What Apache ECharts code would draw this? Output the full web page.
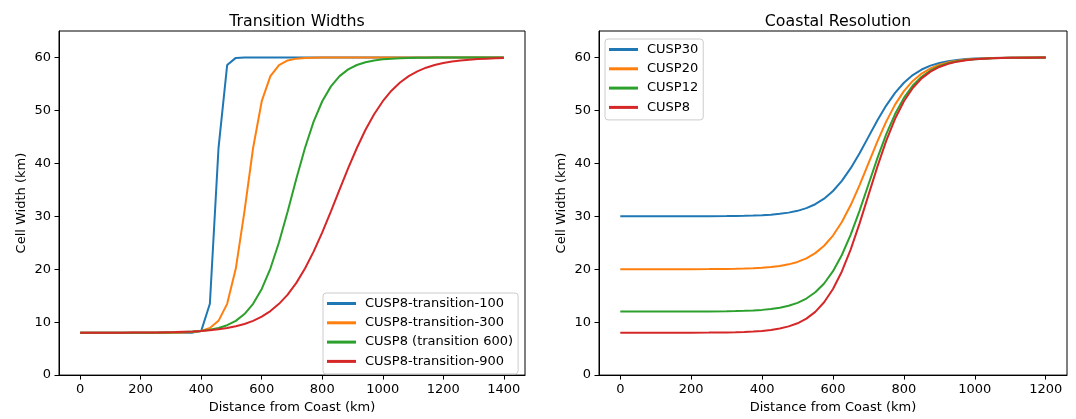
<!DOCTYPE html>
<html>
<head>
<meta charset="utf-8">
<script src="https://cdn.jsdelivr.net/npm/echarts@6/dist/echarts.min.js"></script>
<style>
html,body{margin:0;padding:0;background:#fff;}
#chart{width:1076px;height:419px;}
</style>
</head>
<body>
<div id="chart"></div>
<script>
// ---- Left panel: Transition Widths ----
const leftX = [0, 28.6, 57.1, 85.7, 114.3, 142.9, 171.4, 200, 228.6, 257.1, 285.7, 314.3, 342.9, 371.4, 400, 428.6, 457.1, 485.7, 514.3, 542.9, 571.4, 600, 628.6, 657.1, 685.7, 714.3, 742.9, 771.4, 800, 828.6, 857.1, 885.7, 914.3, 942.9, 971.4, 1000, 1028.6, 1057.1, 1085.7, 1114.3, 1142.9, 1171.4, 1200, 1228.6, 1257.1, 1285.7, 1314.3, 1342.9, 1371.4, 1400];
const trans100 = [8, 8, 8, 8, 8, 8, 8, 8, 8, 8, 8, 8, 8, 8.02, 8.35, 13.47, 42.86, 58.57, 59.92, 60, 60, 60, 60, 60, 60, 60, 60, 60, 60, 60, 60, 60, 60, 60, 60, 60, 60, 60, 60, 60, 60, 60, 60, 60, 60, 60, 60, 60, 60, 60];
const trans300 = [8, 8, 8, 8, 8, 8, 8, 8, 8, 8, 8.01, 8.02, 8.05, 8.13, 8.35, 8.89, 10.25, 13.46, 20.13, 30.94, 42.9, 51.74, 56.47, 58.57, 59.44, 59.78, 59.92, 59.97, 59.99, 60, 60, 60, 60, 60, 60, 60, 60, 60, 60, 60, 60, 60, 60, 60, 60, 60, 60, 60, 60, 60];
const trans600 = [8, 8, 8, 8, 8, 8.01, 8.01, 8.01, 8.02, 8.03, 8.05, 8.08, 8.14, 8.22, 8.35, 8.56, 8.9, 9.42, 10.25, 11.53, 13.46, 16.27, 20.13, 25.1, 30.92, 37.08, 42.9, 47.87, 51.73, 54.54, 56.47, 57.75, 58.58, 59.1, 59.44, 59.65, 59.78, 59.86, 59.92, 59.95, 59.97, 59.98, 59.99, 60, 60, 60, 60, 60, 60, 60];
const trans900 = [8, 8, 8.01, 8.01, 8.01, 8.02, 8.03, 8.04, 8.05, 8.07, 8.1, 8.13, 8.19, 8.25, 8.35, 8.48, 8.65, 8.89, 9.22, 9.66, 10.25, 11.04, 12.09, 13.46, 15.21, 17.42, 20.13, 23.32, 26.96, 30.92, 35.03, 39.1, 42.9, 46.34, 49.28, 51.74, 53.72, 55.27, 56.47, 57.38, 58.07, 58.58, 58.96, 59.24, 59.44, 59.59, 59.7, 59.78, 59.84, 59.88];
const leftNames = ['CUSP8-transition-100', 'CUSP8-transition-300', 'CUSP8 (transition 600)', 'CUSP8-transition-900'];
const leftXTicks = [0, 200, 400, 600, 800, 1000, 1200, 1400];

// ---- Right panel: Coastal Resolution ----
const rightX = [0, 100, 200, 250, 300, 325, 350, 375, 400, 425, 450, 475, 500, 525, 550, 575, 600, 625, 650, 675, 700, 725, 750, 775, 800, 825, 850, 875, 900, 925, 950, 975, 1000, 1050, 1100, 1150, 1200];
const cusp30 = [30, 30, 30.01, 30.02, 30.04, 30.06, 30.09, 30.13, 30.2, 30.3, 30.46, 30.69, 31.03, 31.54, 32.28, 33.32, 34.77, 36.68, 39.09, 41.92, 45, 48.08, 50.91, 53.32, 55.23, 56.68, 57.72, 58.46, 58.97, 59.31, 59.54, 59.7, 59.8, 59.91, 59.96, 59.98, 59.99];
const cusp20 = [20, 20, 20.01, 20.02, 20.05, 20.08, 20.12, 20.18, 20.27, 20.4, 20.61, 20.92, 21.38, 22.05, 23.04, 24.43, 26.36, 28.91, 32.12, 35.89, 40, 44.11, 47.88, 51.09, 53.64, 55.57, 56.96, 57.95, 58.62, 59.08, 59.39, 59.6, 59.73, 59.88, 59.95, 59.98, 59.99];
const cusp12 = [12, 12, 12.01, 12.03, 12.06, 12.09, 12.14, 12.22, 12.32, 12.49, 12.73, 13.1, 13.65, 14.46, 15.64, 17.31, 19.63, 22.69, 26.54, 31.07, 36, 40.93, 45.46, 49.31, 52.37, 54.69, 56.36, 57.54, 58.35, 58.9, 59.27, 59.51, 59.68, 59.86, 59.94, 59.97, 59.99];
const cusp8 = [8, 8, 8.01, 8.03, 8.07, 8.1, 8.15, 8.23, 8.35, 8.53, 8.79, 9.2, 9.79, 10.67, 11.95, 13.76, 16.26, 19.58, 23.76, 28.66, 34, 39.34, 44.24, 48.42, 51.74, 54.24, 56.05, 57.33, 58.21, 58.8, 59.21, 59.47, 59.65, 59.85, 59.93, 59.97, 59.99];
const rightNames = ['CUSP30', 'CUSP20', 'CUSP12', 'CUSP8'];
const rightXTicks = [0, 200, 400, 600, 800, 1000, 1200];

const yTicks = [0, 10, 20, 30, 40, 50, 60];
const colors = ['#1f77b4', '#ff7f0e', '#2ca02c', '#d62728'];

const FONT = 'DejaVu Sans';
const FS = 13;
function pairs(xs, ys) { return xs.map((x, i) => [x, ys[i]]); }
function plain(v) { return String(v); }

function xAxisDef(idx, min, max, ticks) {
  return {
    type: 'value', gridIndex: idx, min: min, max: max,
    name: 'Distance from Coast (km)', nameLocation: 'middle', nameGap: 24,
    nameTextStyle: { color: '#000', fontSize: FS, fontFamily: FONT },
    axisLine: { show: true, onZero: false, lineStyle: { color: '#000', width: 1 } },
    axisTick: { show: true, length: 4.5, lineStyle: { color: '#000', width: 1 }, customValues: ticks },
    axisLabel: { color: '#000', fontSize: FS, fontFamily: FONT, margin: 8, customValues: ticks, formatter: plain },
    splitLine: { show: false }
  };
}
function yAxisDef(idx) {
  return {
    type: 'value', gridIndex: idx, min: 0, max: 65,
    name: 'Cell Width (km)', nameLocation: 'middle', nameGap: 31, nameRotate: 90,
    nameTextStyle: { color: '#000', fontSize: FS, fontFamily: FONT },
    axisLine: { show: true, onZero: false, lineStyle: { color: '#000', width: 1 } },
    axisTick: { show: true, length: 4.5, lineStyle: { color: '#000', width: 1 }, customValues: yTicks },
    axisLabel: { color: '#000', fontSize: FS, fontFamily: FONT, margin: 8, customValues: yTicks, formatter: plain },
    splitLine: { show: false }
  };
}
function lineSeries(name, xi, data, color) {
  return {
    type: 'line', name: name, xAxisIndex: xi, yAxisIndex: xi,
    data: data, showSymbol: false, symbol: 'none', smooth: false,
    lineStyle: { color: color, width: 2 }, itemStyle: { color: color },
    emphasis: { disabled: true }, animation: false
  };
}
function legendDef(names, left, top) {
  return {
    data: names, orient: 'vertical', left: left, top: top,
    icon: 'rect', itemWidth: 29, itemHeight: 3, itemGap: 6.3,
    padding: [4, 5, 6, 4],
    backgroundColor: 'rgba(255,255,255,0.8)', borderColor: '#cccccc', borderWidth: 1, borderRadius: 3,
    textStyle: { color: '#000', fontSize: FS, fontFamily: FONT, padding: [0, 0, 0, 4] },
    selectedMode: false
  };
}

const leftSeries = [trans100, trans300, trans600, trans900];
const rightSeries = [cusp30, cusp20, cusp12, cusp8];

const option = {
  animation: false,
  backgroundColor: '#ffffff',
  textStyle: { fontFamily: FONT },
  title: [
    { text: 'Transition Widths', left: 292, top: 9, textAlign: 'center',
      textStyle: { color: '#000', fontSize: 15.8, fontWeight: 'normal', fontFamily: FONT } },
    { text: 'Coastal Resolution', left: 833, top: 9, textAlign: 'center',
      textStyle: { color: '#000', fontSize: 15.8, fontWeight: 'normal', fontFamily: FONT } }
  ],
  grid: [
    { left: 59, top: 31, width: 466, height: 348, show: true, borderColor: '#000', borderWidth: 1, backgroundColor: 'transparent' },
    { left: 599, top: 31, width: 468, height: 348, show: true, borderColor: '#000', borderWidth: 1, backgroundColor: 'transparent' }
  ],
  xAxis: [xAxisDef(0, -70, 1470, leftXTicks), xAxisDef(1, -60, 1260, rightXTicks)],
  yAxis: [yAxisDef(0), yAxisDef(1)],
  legend: [legendDef(leftNames, 323, 293), legendDef(rightNames, 605, 39)],
  series: [
    ...leftSeries.map((ys, i) => lineSeries(leftNames[i], 0, pairs(leftX, ys), colors[i])),
    ...rightSeries.map((ys, i) => lineSeries(rightNames[i], 1, pairs(rightX, ys), colors[i]))
  ]
};

const chart = echarts.init(document.getElementById('chart'), null, { renderer: 'canvas' });
chart.setOption(option);
</script>
</body>
</html>
